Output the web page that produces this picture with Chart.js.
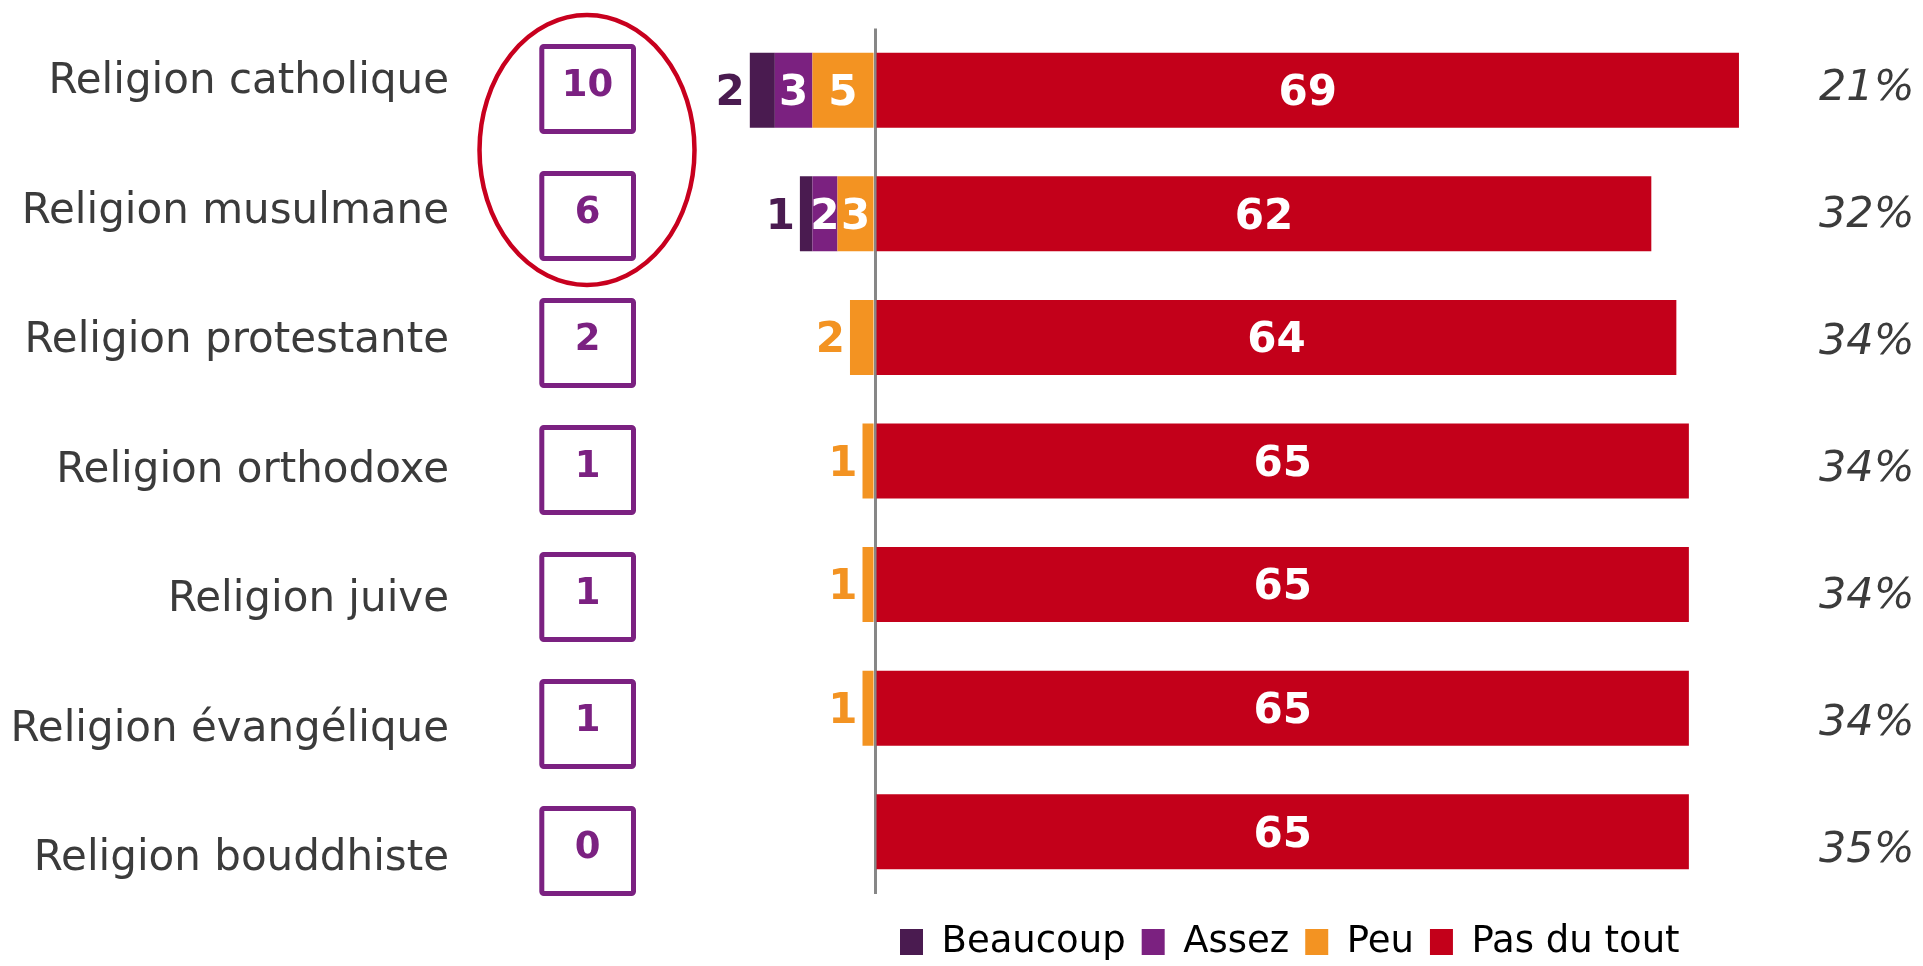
<!DOCTYPE html>
<html><head><meta charset="utf-8">
<script src="https://cdn.jsdelivr.net/npm/chart.js@4/dist/chart.umd.min.js"></script>
<style>html,body{margin:0;padding:0;background:#fff;overflow:hidden}canvas{display:block}</style>
</head><body>
<canvas id="c" width="1923" height="966"></canvas>
<script>
// ---- data ----
const categories = ['Religion catholique','Religion musulmane','Religion protestante','Religion orthodoxe','Religion juive','Religion évangélique','Religion bouddhiste'];
const beaucoup  = [2, 1, 0, 0, 0, 0, 0];
const assez     = [3, 2, 0, 0, 0, 0, 0];
const peu       = [5, 3, 2, 1, 1, 1, 0];
const pasDuTout = [69, 62, 64, 65, 65, 65, 65];
const totalBox  = [10, 6, 2, 1, 1, 1, 0];
const sansReponse = ['21%','32%','34%','34%','34%','34%','35%'];
const legendOrder = ['Beaucoup','Assez','Peu','Pas du tout'];

const COL = { beaucoup:'#4A1B50', assez:'#7B2180', peu:'#F39322', pas:'#C3001A', box:'#7B2181', ring:'#C8001E', text:'#3b3b3b' };
const srcByLabel = { 'Beaucoup': beaucoup, 'Assez': assez, 'Peu': peu, 'Pas du tout': pasDuTout };

Chart.defaults.font.family = "'DejaVu Sans', sans-serif";
Chart.defaults.color = COL.text;

const legendPlace = {
  id: 'legendPlace',
  afterLayout(chart) {
    const lg = chart.legend;
    if (!lg) return;
    const pad = lg.options.labels.padding;
    const dx = 900 - (lg.left + pad);
    const dy = 923.5 - (lg.top + pad);
    lg.left += dx; lg.right += dx; lg.top += dy; lg.bottom += dy;
  }
};

const barLabels = {
  id: 'barLabels',
  afterDatasetsDraw(chart) {
    const ctx = chart.ctx;
    ctx.save();
    ctx.font = "bold 42px 'DejaVu Sans'";
    ctx.textBaseline = 'middle';
    chart.data.datasets.forEach((ds, di) => {
      const meta = chart.getDatasetMeta(di);
      if (meta.hidden) return;
      const src = srcByLabel[ds.label];
      meta.data.forEach((bar, i) => {
        const v = src[i];
        if (!v) return;
        const p = bar.getProps(['x', 'y', 'base'], true);
        const left = Math.min(p.x, p.base), right = Math.max(p.x, p.base);
        const inside = ds.label === 'Pas du tout' || ds.label === 'Assez' || (ds.label === 'Peu' && v >= 3);
        if (inside) {
          ctx.fillStyle = '#ffffff'; ctx.textAlign = 'center';
          ctx.fillText(String(v), (left + right) / 2, p.y + 4);
        } else {
          ctx.fillStyle = ds.backgroundColor; ctx.textAlign = 'right';
          ctx.fillText(String(v), left - 5, p.y + 4);
        }
      });
    });
    ctx.restore();
  }
};

const boxes = {
  id: 'boxes',
  afterDraw(chart) {
    const ys = chart.scales.yr;
    const ctx = chart.ctx;
    ctx.save();
    ctx.strokeStyle = COL.box; ctx.lineWidth = 5;
    ctx.fillStyle = COL.box;
    ctx.font = "bold 37px 'DejaVu Sans'";
    ctx.textAlign = 'center'; ctx.textBaseline = 'middle';
    totalBox.forEach((v, i) => {
      const yc = ys.getPixelForValue(i);
      ctx.beginPath();
      if (ctx.roundRect) ctx.roundRect(541.8, yc - 42.5, 91.7, 85, 2); else ctx.rect(541.8, yc - 42.5, 91.7, 85);
      ctx.stroke();
      ctx.fillText(String(v), 587.6, yc - 3);
    });
    const e0 = ys.getPixelForValue(0), e1 = ys.getPixelForValue(1);
    ctx.strokeStyle = COL.ring; ctx.lineWidth = 4.5;
    ctx.beginPath();
    ctx.ellipse(587, (e0 + e1) / 2 - 2.5, 107.5, 135, 0, 0, Math.PI * 2);
    ctx.stroke();
    ctx.restore();
  }
};

new Chart(document.getElementById('c'), {
  type: 'bar',
  data: {
    labels: categories,
    datasets: [
      { label: 'Peu', data: peu.map(v => -v), backgroundColor: COL.peu },
      { label: 'Assez', data: assez.map(v => -v), backgroundColor: COL.assez },
      { label: 'Beaucoup', data: beaucoup.map(v => -v), backgroundColor: COL.beaucoup },
      { label: 'Pas du tout', data: pasDuTout, backgroundColor: COL.pas }
    ]
  },
  options: {
    indexAxis: 'y',
    responsive: false,
    animation: false,
    events: [],
    layout: { padding: { top: 28.5, left: 0, right: 0, bottom: 0 } },
    datasets: { bar: { categoryPercentage: 1, barPercentage: 0.607, borderWidth: 0 } },
    scales: {
      x: {
        type: 'linear', stacked: true, min: -25, max: 71, z: 1,
        border: { display: false },
        grid: { color: '#878787', lineWidth: 3, drawTicks: false },
        ticks: { display: false },
        afterBuildTicks: s => { s.ticks = [{ value: 0 }]; },
        afterFit: s => { s.height = 9.5; }
      },
      y: { type: 'category', stacked: true, display: false, offset: true },
      yl: {
        type: 'linear', position: 'left', reverse: true, bounds: 'data', offset: false,
        min: -0.4178, max: 6.2633,
        border: { display: false },
        grid: { display: true, offset: false, drawOnChartArea: false, drawTicks: true, tickLength: 113, color: 'rgba(0,0,0,0)' },
        ticks: { autoSkip: false, padding: 0, color: COL.text, font: { size: 42 },
                 callback: v => categories[v] },
        afterBuildTicks: s => { s.ticks = categories.map((_, i) => ({ value: i })); },
        afterFit: s => { s.width = 562; }
      },
      yr: {
        type: 'linear', position: 'right', reverse: true, bounds: 'data', offset: false,
        min: -0.4764, max: 6.3346,
        border: { display: false },
        grid: { display: true, offset: false, drawOnChartArea: false, drawTicks: true, tickLength: 55, color: 'rgba(0,0,0,0)' },
        ticks: { autoSkip: false, padding: 0, color: COL.text, font: { size: 43, style: 'italic' },
                 callback: v => sansReponse[v] },
        afterBuildTicks: s => { s.ticks = sansReponse.map((_, i) => ({ value: i })); },
        afterFit: s => { s.width = 159; }
      }
    },
    plugins: {
      tooltip: { enabled: false },
      legend: {
        position: 'bottom', align: 'start',
        labels: {
          boxWidth: 23, boxHeight: 26, padding: 16, color: '#000',
          font: { size: 37 },
          sort: (a, b) => legendOrder.indexOf(a.text) - legendOrder.indexOf(b.text)
        }
      }
    }
  },
  plugins: [legendPlace, barLabels, boxes]
});
</script>
</body></html>
